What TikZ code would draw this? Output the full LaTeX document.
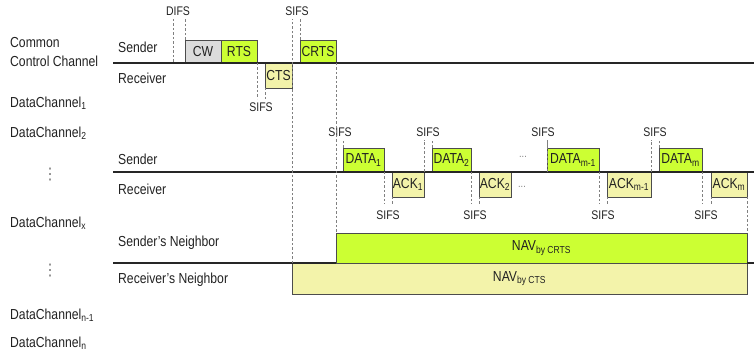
\documentclass[tikz,border=0pt]{standalone}
\usepackage{fontspec}
\setmainfont{Liberation Sans}[FakeStretch=0.84]
\newfontfamily\simbolos{DejaVu Sans}
\usepackage{tikz}
\usetikzlibrary{positioning, calc}

\definecolor{limegreen}{HTML}{CCFF33}
\definecolor{paleyellow}{HTML}{F3F3AA}
\definecolor{cwgray}{HTML}{DCDCDC}
\definecolor{txtgray}{HTML}{222222}

\begin{document}
\begin{tikzpicture}[
        x=1pt, y=-1pt, % 1 unidade = 1 pixel, y para baixo
        quadro/.style={rectangle, draw=black!70, line width=0.8pt, inner sep=0pt, outer sep=0pt, minimum height=24, text=txtgray, font=\fontsize{14.5}{16}\selectfont},
        rotulo/.style={anchor=west, inner sep=0pt, text=txtgray, font=\fontsize{14.5}{16}\selectfont},
        intervalo/.style={inner sep=0pt, text=txtgray, font=\fontsize{12.5}{14}\selectfont},
        canal/.style={line width=2.2pt, color=black!85},
        tracejado/.style={gray, line width=0.6pt, dash pattern=on 2.5pt off 2pt},
        pontos/.style={inner sep=0pt, text=gray, font=\fontsize{11}{12}\selectfont}
        ]
        \useasboundingbox (0,0) rectangle (754,363);

        % Rotulos da coluna esquerda
        \node[rotulo] (common) at (10,43) {Common};
        \node[rotulo] (ctrl) at (10,61) {Control Channel};
        \node[rotulo] (dc1) at (10,103) {DataChannel\textsubscript{1}};
        \node[rotulo] (dc2) at (10,133) {DataChannel\textsubscript{2}};
        \node[pontos, font=\fontsize{16}{16}\selectfont] (vd1) at (50,175) {\simbolos ⋮};
        \node[rotulo] (dcx) at (10,223) {DataChannel\textsubscript{x}};
        \node[pontos, font=\fontsize{16}{16}\selectfont] (vd2) at (50,271) {\simbolos ⋮};
        \node[rotulo] (dcn1) at (10,315) {DataChannel\textsubscript{n-1}};
        \node[rotulo] (dcn) at (10,343) {DataChannel\textsubscript{n}};

        % Rotulos das linhas
        \node[rotulo] (snd) at (118,47) {Sender};
        \node[rotulo] (rcv) at (118,78) {Receiver};
        \node[rotulo] (snd2) at (118,159) {Sender};
        \node[rotulo] (rcv2) at (118,189) {Receiver};
        \node[rotulo] (snb) at (118,243) {Sender's Neighbor};
        \node[rotulo] (rnb) at (118,280) {Receiver's Neighbor};

        % Canal de controle
        \node[quadro, fill=cwgray, minimum width=36, minimum height=23, anchor=south west] (cw) at (185,63) {CW};
        \node[quadro, fill=limegreen, minimum width=36, minimum height=23, anchor=south west] (rts) at (cw.south east) {RTS};
        \node[quadro, fill=paleyellow, minimum width=27, minimum height=25, anchor=north west] (cts) at (265,63) {CTS};
        \node[quadro, fill=limegreen, minimum width=36, minimum height=23, anchor=south west] (crts) at (300,63) {CRTS};

        % Canal de dados
        \node[quadro, fill=limegreen, minimum width=41, anchor=south west] (data1) at (343,172) {DATA\textsubscript{1}};
        \node[quadro, fill=paleyellow, minimum width=32, minimum height=25, anchor=north west] (ack1) at (392,172) {ACK\textsubscript{1}};
        \node[quadro, fill=limegreen, minimum width=39, anchor=south west] (data2) at (432,172) {DATA\textsubscript{2}};
        \node[quadro, fill=paleyellow, minimum width=32, minimum height=25, anchor=north west] (ack2) at (479,172) {ACK\textsubscript{2}};
        \node[quadro, fill=limegreen, minimum width=52, anchor=south west] (datam1) at (547,172) {DATA\textsubscript{m-1}};
        \node[quadro, fill=paleyellow, minimum width=44, minimum height=25, anchor=north west] (ackm1) at (607,172) {ACK\textsubscript{m-1}};
        \node[quadro, fill=limegreen, minimum width=43, anchor=south west] (datam) at (659,172) {DATA\textsubscript{m}};
        \node[quadro, fill=paleyellow, minimum width=36, minimum height=25, anchor=north west] (ackm) at (711,172) {ACK\textsubscript{m}};
        \node[pontos] (dots1) at (523,157) {...};
        \node[pontos] (dots2) at (522,187) {...};

        % NAV
        \node[quadro, fill=limegreen, minimum width=411, minimum height=30, anchor=south west] (navcrts) at (336,263) {NAV\textsubscript{by CRTS}};
        \node[quadro, fill=paleyellow, minimum width=455, minimum height=31, anchor=north west] (navcts) at (292,263) {NAV\textsubscript{by CTS}};

        % Linhas dos canais
        \coordinate (cL) at (113,63);
        \coordinate (cR) at (754,63);
        \coordinate (dL) at (113,172);
        \coordinate (dR) at (754,172);
        \coordinate (nL) at (113,263);
        \coordinate (nR) at (754,263);
        \draw[canal] (cL) -- (cR);
        \draw[canal] (dL) -- (dR);
        \draw[canal] (nL) -- (navcrts.south west);
        \draw[canal] (navcrts.south east) -- (nR);

        % Intervalos DIFS / SIFS
        \node[intervalo] (difs) at (178,11) {DIFS};
        \node[intervalo] (sifsa) at (297,11) {SIFS};
        \node[intervalo] (sifsb) at (261,107) {SIFS};
        \node[intervalo] (sifs1) at (340,132) {SIFS};
        \node[intervalo] (sifs2) at (388,215) {SIFS};
        \node[intervalo] (sifs3) at (428,132) {SIFS};
        \node[intervalo] (sifs4) at (475,215) {SIFS};
        \node[intervalo] (sifs5) at (543,132) {SIFS};
        \node[intervalo] (sifs6) at (603,215) {SIFS};
        \node[intervalo] (sifs7) at (655,132) {SIFS};
        \node[intervalo] (sifs8) at (706,215) {SIFS};

        \draw[tracejado] (173,19) -- (173,63);
        \draw[tracejado] (cw.north west) -- ++(0,-21);
        \draw[tracejado] (navcts.north west) -- (navcts.north west |- 0,19);
        \draw[tracejado] (crts.north west) -- ++(0,-21);
        \draw[tracejado] (rts.south east) -- ++(0,36);
        \draw[tracejado] (cts.south west) -- ++(0,11);
        \draw[tracejado] (crts.south east) -- (navcrts.north west);

        \draw[tracejado] (data1.north west) -- ++(0,-8);
        \draw[tracejado] (data1.south east) -- ++(0,32);
        \draw[tracejado] (ack1.south west) -- ++(0,7);
        \draw[tracejado] (ack1.north east) -- ++(0,-32);
        \draw[tracejado] (data2.north west) -- ++(0,-8);
        \draw[tracejado] (data2.south east) -- ++(0,32);
        \draw[tracejado] (ack2.south west) -- ++(0,7);
        \draw[tracejado] (datam1.south west) -- ++(0,-32);
        \draw[tracejado] (datam1.north west) -- ++(0,-8);
        \draw[tracejado] (datam1.south east) -- ++(0,32);
        \draw[tracejado] (ackm1.south west) -- ++(0,7);
        \draw[tracejado] (ackm1.north east) -- ++(0,-32);
        \draw[tracejado] (datam.north west) -- ++(0,-8);
        \draw[tracejado] (datam.south east) -- ++(0,32);
        \draw[tracejado] (ackm.south west) -- ++(0,7);
        \draw[tracejado] (ackm.south east) -- (navcrts.north east);

    \end{tikzpicture}
\end{document}
